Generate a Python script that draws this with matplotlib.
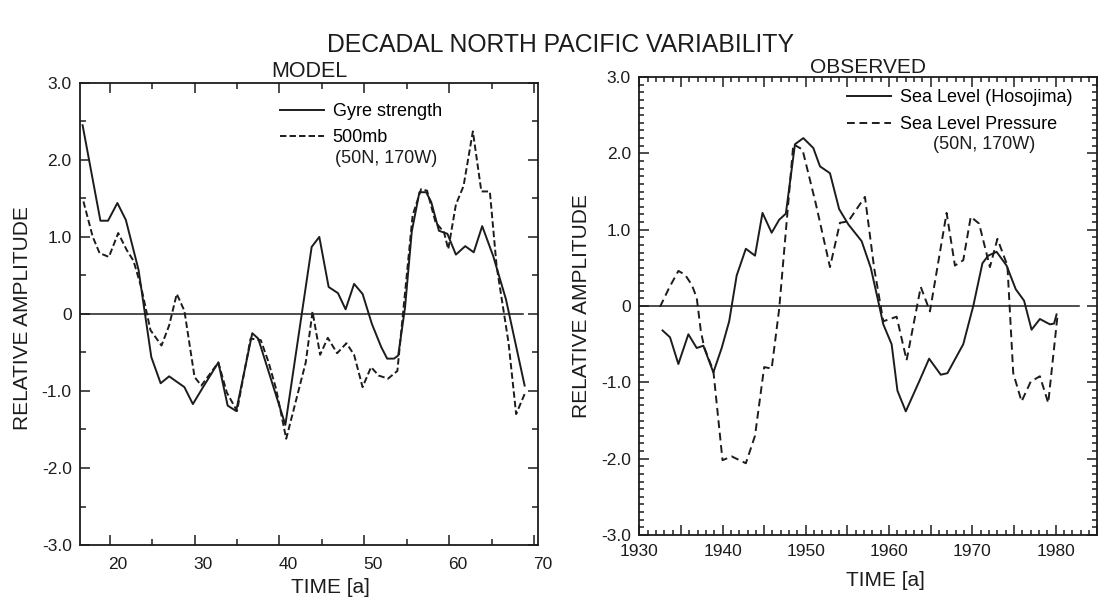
import matplotlib
matplotlib.use("Agg")
import matplotlib.pyplot as plt
import matplotlib.transforms as mtransforms
from matplotlib.lines import Line2D
from matplotlib.ticker import MultipleLocator, FixedLocator

plt.rcParams['font.family'] = ['Liberation Sans', 'DejaVu Sans']

# --- MODEL panel data (time in model years) ---
gyre_t = [16.8, 18.9, 19.8, 20.9, 21.9, 23.4, 24.9, 26.0, 27.0, 28.8, 29.8, 31.0,
          32.8, 33.9, 34.9, 36.8, 37.5, 39.1, 40.7, 43.8, 44.7, 45.8, 46.9, 47.8,
          48.8, 49.8, 50.9, 52.0, 52.7, 53.5, 54.0, 54.8, 55.6, 56.5, 57.3, 57.9,
          58.8, 59.8, 60.8, 61.9, 62.9, 63.9, 65.2, 66.7, 68.9]
gyre_v = [2.45, 1.21, 1.21, 1.44, 1.22, 0.57, -0.56, -0.90, -0.81, -0.95, -1.17, -0.95,
          -0.63, -1.19, -1.26, -0.25, -0.32, -0.88, -1.44, 0.87, 1.00, 0.35, 0.27, 0.06,
          0.39, 0.26, -0.13, -0.43, -0.58, -0.58, -0.54, 0.08, 1.07, 1.58, 1.58, 1.45,
          1.08, 1.04, 0.77, 0.88, 0.80, 1.14, 0.75, 0.19, -0.93]

mb_t = [16.9, 18.0, 18.8, 19.9, 21.0, 22.0, 22.8, 23.7, 24.8, 26.1, 27.0, 27.9, 28.8,
        30.0, 30.8, 31.8, 32.8, 33.8, 35.0, 36.6, 37.8, 38.7, 39.6, 40.8, 43.1, 43.9,
        44.8, 45.7, 46.8, 47.9, 48.8, 49.8, 50.8, 51.7, 52.8, 53.9, 55.7, 56.7, 57.4,
        58.4, 59.4, 59.9, 60.8, 61.7, 62.8, 63.8, 64.8, 65.6, 67.0, 67.9, 68.9]
mb_v = [1.46, 1.00, 0.79, 0.74, 1.05, 0.83, 0.69, 0.35, -0.21, -0.41, -0.15, 0.26, 0.04,
        -0.82, -0.93, -0.78, -0.63, -1.02, -1.26, -0.32, -0.34, -0.62, -0.97, -1.62, -0.63,
        0.03, -0.53, -0.31, -0.51, -0.38, -0.53, -0.95, -0.69, -0.80, -0.84, -0.74, 1.28,
        1.62, 1.60, 1.19, 1.06, 0.84, 1.42, 1.66, 2.37, 1.59, 1.59, 0.62, -0.37, -1.30,
        -1.04]

# --- OBSERVED panel data (calendar years) ---
sl_t = [1932.8, 1933.7, 1934.7, 1935.9, 1936.9, 1937.7, 1938.9, 1939.9, 1940.8, 1941.7,
        1942.8, 1943.9, 1944.8, 1945.9, 1946.8, 1947.6, 1948.7, 1949.7, 1950.9, 1951.7,
        1952.9, 1954.0, 1955.1, 1956.7, 1957.8, 1958.7, 1959.3, 1960.3, 1961.0, 1962.0,
        1963.6, 1964.8, 1966.2, 1967.0, 1968.9, 1970.1, 1971.2, 1971.9, 1972.9, 1974.1,
        1975.2, 1976.2, 1977.1, 1978.1, 1979.3, 1979.8, 1980.1]
sl_v = [-0.32, -0.41, -0.76, -0.37, -0.55, -0.52, -0.87, -0.55, -0.20, 0.40,
        0.75, 0.66, 1.22, 0.96, 1.13, 1.21, 2.12, 2.20, 2.07, 1.83,
        1.74, 1.27, 1.07, 0.85, 0.50, 0.06, -0.24, -0.50, -1.11, -1.38,
        -0.99, -0.69, -0.90, -0.88, -0.50, 0.00, 0.56, 0.66, 0.71, 0.53,
        0.22, 0.07, -0.31, -0.17, -0.24, -0.23, -0.11]

slp_t = [1932.5, 1933.6, 1934.7, 1935.5, 1936.3, 1936.9, 1937.4, 1937.8, 1938.9, 1940.0,
         1941.1, 1942.8, 1943.9, 1945.0, 1945.9, 1946.8, 1948.5, 1949.6, 1951.2, 1952.9,
         1954.1, 1955.1, 1957.1, 1958.2, 1959.3, 1960.9, 1962.1, 1963.8, 1964.9, 1966.9,
         1967.9, 1968.9, 1969.8, 1970.8, 1972.1, 1973.0, 1974.2, 1974.9, 1975.9, 1977.0,
         1978.1, 1979.1, 1980.2]
slp_v = [-0.01, 0.24, 0.46, 0.41, 0.28, 0.11, -0.33, -0.54, -0.85, -2.02,
         -1.97, -2.06, -1.70, -0.80, -0.82, -0.04, 2.12, 2.05, 1.34, 0.51,
         1.09, 1.11, 1.43, 0.50, -0.20, -0.14, -0.71, 0.25, -0.07, 1.22,
         0.53, 0.60, 1.17, 1.08, 0.51, 0.88, 0.53, -0.88, -1.25, -0.99,
         -0.92, -1.27, -0.14]

y_ticks = [-3, -2, -1, 0, 1, 2, 3]
y_labels = ['-3.0', '-2.0', '-1.0', '0', '1.0', '2.0', '3.0']
model_xticks = [20, 30, 40, 50, 60, 70]
obs_xticks = [1930, 1935, 1940, 1945, 1950, 1955, 1960, 1965, 1970, 1975, 1980, 1985]
obs_xlabels = ['1930', '', '1940', '', '1950', '', '1960', '', '1970', '', '1980', '']

ink = '#1c1c1c'

fig = plt.figure(figsize=(11.04, 6.09), dpi=100)
ax1 = fig.add_axes([0.0725, 0.105, 0.415, 0.759])
ax2 = fig.add_axes([0.579, 0.1215, 0.415, 0.752])

fig.text(0.508, 0.926, 'DECADAL NORTH PACIFIC VARIABILITY', ha='center', va='center',
         fontsize=17.8, color=ink)

# MODEL
ax1.plot(gyre_t, gyre_v, color=ink, lw=1.4)
ax1.plot(mb_t, mb_v, color=ink, lw=1.4, dashes=(3.3, 1.6))
ax1.axhline(0, xmin=0, xmax=0.967, color=ink, lw=1.1)
ax1.set_xlim(16.5, 70.5)
ax1.set_ylim(-3, 3)
ax1.set_xticks(model_xticks)
ax1.xaxis.set_minor_locator(FixedLocator([25, 35, 45, 55, 65]))
ax1.set_yticks(y_ticks)
ax1.set_yticklabels(y_labels)
ax1.yaxis.set_minor_locator(MultipleLocator(0.5))
ax1.set_title('MODEL', fontsize=15.5, pad=4, color=ink)
ax1.set_ylabel('RELATIVE AMPLITUDE', fontsize=15, color=ink)
ax1.yaxis.set_label_coords(-0.105, 0.49)
ax1.set_xlabel('TIME [a]', fontsize=15, color=ink)
ax1.xaxis.set_label_coords(0.546, -0.071)
ax1.tick_params(which='both', direction='in', top=True, right=True, labelsize=12.5,
                colors=ink, width=1.1)
ax1.tick_params(which='major', length=7)
ax1.tick_params(which='minor', length=4)
ax1.tick_params(axis='x', which='major', pad=8.5)
ax1.tick_params(axis='y', which='major', pad=6)
# the printed year labels sit a little to the right of their ticks
shift = mtransforms.ScaledTranslation(6 / 72, 0, fig.dpi_scale_trans)
for lab in ax1.get_xticklabels():
    lab.set_transform(lab.get_transform() + shift)
ax1.legend([Line2D([], [], color=ink, lw=1.4),
            Line2D([], [], color=ink, lw=1.4, dashes=(3.3, 1.6))],
           ['Gyre strength', '500mb'], loc='upper left',
           bbox_to_anchor=(0.437, 0.956), frameon=False, fontsize=13,
           handlelength=2.4, handletextpad=0.5, labelspacing=0.5,
           borderpad=0, borderaxespad=0)
ax1.text(0.557, 0.836, '(50N, 170W)', transform=ax1.transAxes, ha='left', va='center',
         fontsize=13, color=ink)

# OBSERVED
ax2.plot(sl_t, sl_v, color=ink, lw=1.4)
ax2.plot(slp_t, slp_v, color=ink, lw=1.4, dashes=(4.0, 2.4))
ax2.axhline(0, xmin=0, xmax=0.96, color=ink, lw=1.1)
ax2.set_xlim(1930, 1985)
ax2.set_ylim(-3, 3)
ax2.set_xticks(obs_xticks)
ax2.set_xticklabels(obs_xlabels)
ax2.xaxis.set_minor_locator(MultipleLocator(1))
ax2.set_yticks(y_ticks)
ax2.set_yticklabels(y_labels)
ax2.yaxis.set_minor_locator(MultipleLocator(0.1))
ax2.set_title('OBSERVED', fontsize=15, pad=2, color=ink)
ax2.set_ylabel('RELATIVE AMPLITUDE', fontsize=15, color=ink)
ax2.yaxis.set_label_coords(-0.105, 0.5)
ax2.set_xlabel('TIME [a]', fontsize=15, color=ink)
ax2.xaxis.set_label_coords(0.537, -0.079)
ax2.tick_params(which='both', direction='in', top=True, right=True, labelsize=12.5,
                colors=ink, width=1.1)
ax2.tick_params(which='major', length=7)
ax2.tick_params(which='minor', length=3.5)
ax2.tick_params(axis='x', which='major', pad=6.5)
ax2.tick_params(axis='y', which='major', pad=6)
ax2.legend([Line2D([], [], color=ink, lw=1.4),
            Line2D([], [], color=ink, lw=1.4, dashes=(4.0, 2.4))],
           ['Sea Level (Hosojima)', 'Sea Level Pressure'], loc='upper left',
           bbox_to_anchor=(0.454, 0.974), frameon=False, fontsize=13,
           handlelength=2.4, handletextpad=0.5, labelspacing=0.55,
           borderpad=0, borderaxespad=0)
ax2.text(0.753, 0.852, '(50N, 170W)', transform=ax2.transAxes, ha='center', va='center',
         fontsize=13, color=ink)

for ax in (ax1, ax2):
    for sp in ax.spines.values():
        sp.set_linewidth(1.3)
        sp.set_color(ink)

fig.savefig('out.png', dpi=100)
